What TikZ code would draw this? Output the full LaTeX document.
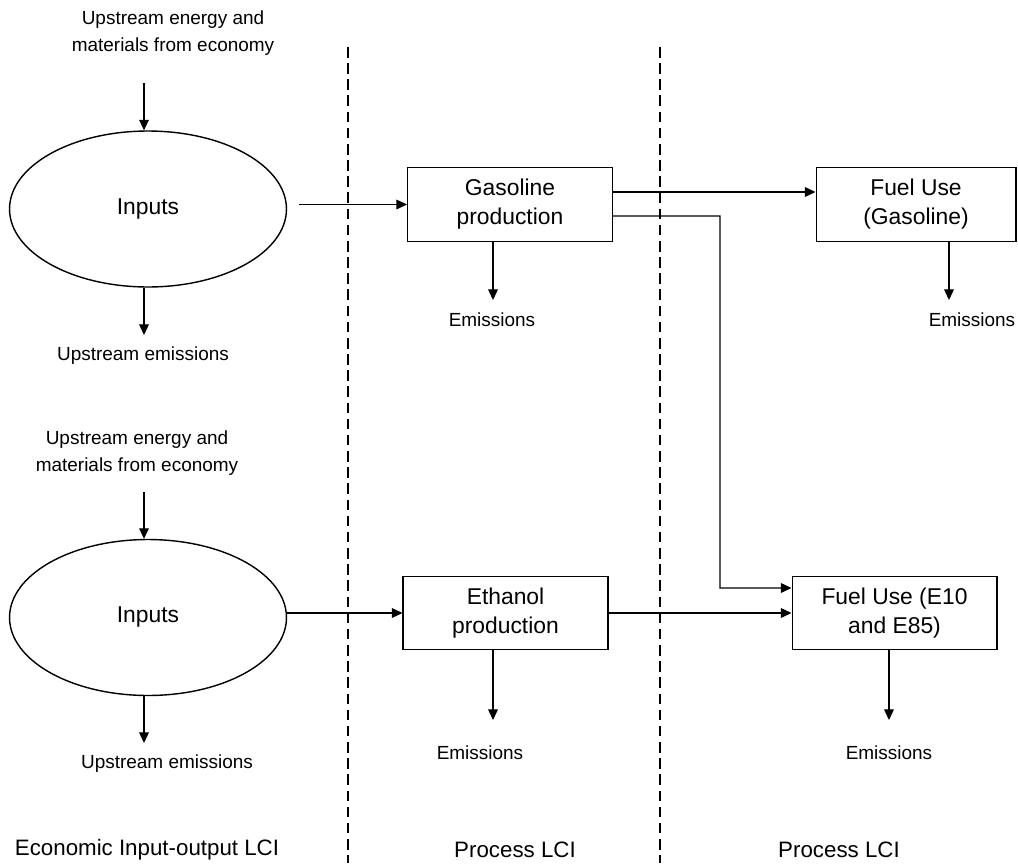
\documentclass[tikz,border=0pt]{standalone}
\usepackage{fontspec}
\setmainfont{Liberation Sans}
\usepackage{tikz}
\usetikzlibrary{arrows.meta}
\usetikzlibrary{shapes.geometric}
\tikzset{flow/.style={-{Triangle[length=6pt,width=5.5pt]},line width=0.6pt}}
\tikzset{procbox/.style={draw,line width=0.6pt,minimum width=4.1cm,minimum height=1.47cm,inner sep=0pt,align=center,font=\fontsize{13}{16.5}\selectfont}}
\tikzset{inputs/.style={draw,ellipse,line width=0.8pt,minimum width=5.54cm,minimum height=3.12cm,inner sep=0pt,font=\fontsize{13}{16}\selectfont}}
\tikzset{small/.style={align=center,font=\fontsize{10.8}{15.3}\selectfont}}
\tikzset{region/.style={font=\fontsize{12.7}{15}\selectfont}}
\tikzset{divider/.style={line width=0.6pt,dash pattern=on 6pt off 3.2pt}}

\begin{document}
\begin{tikzpicture}[x=0.02cm,y=-0.02cm]
\useasboundingbox (0,0) rectangle (1018,863);
\draw [divider] (348,47) -- (348,863);
\draw [divider] (660,47) -- (660,863);
% gasoline chain
\node [small] (up1) at (173,33) {Upstream energy and\\materials from economy};
\node [inputs] (in1) at (148,209) {Inputs};
\node [small] (ue1) at (143,356) {Upstream emissions};
\node [procbox] (gas) at (510,204.5) {Gasoline\\production};
\node [procbox,minimum width=4.0cm] (fuelg) at (916,204.5) {Fuel Use\\(Gasoline)};
\node [small] (em1) at (492,320) {Emissions};
\node [small] (em2) at (972,320) {Emissions};
% ethanol chain
\node [small] (up2) at (137,453.5) {Upstream energy and\\materials from economy};
\node [inputs] (in2) at (148,617.5) {Inputs};
\node [small] (ue2) at (167,764) {Upstream emissions};
\node [procbox] (eth) at (505.5,613) {Ethanol\\production};
\node [procbox] (fuele) at (894.5,613) {Fuel Use (E10\\and E85)};
\node [small] (em3) at (480,753) {Emissions};
\node [small] (em4) at (889,753) {Emissions};
% region names
\node [region] (eio) at (147,850) {Economic Input-output LCI};
\node [region] (pr1) at (515,850) {Process LCI};
\node [region] (pr2) at (839,850) {Process LCI};
\coordinate (s1) at (144,83);
\coordinate (s2) at (144,492);
\coordinate (d1) at (144,335);
\coordinate (d2) at (144,743);
\coordinate (o1) at (299,204.5);
\coordinate (split) at (720,216);
\coordinate (g1) at (493,300);
\coordinate (g2) at (949,300);
\coordinate (g3) at (493,720);
\coordinate (g4) at (889,720);
\draw [flow] (s1) -- (s1 |- in1.north);
\draw [flow] (d1 |- in1.south) -- (d1);
\draw [flow] (o1) -- (gas.west);
\draw [flow] ([yshift=0.25cm]gas.east) -- ([yshift=0.25cm]fuelg.west);
\draw [flow] ([yshift=-0.23cm]gas.east) -- (split) |- ([yshift=0.5cm]fuele.west);
\draw [flow] (g1 |- gas.south) -- (g1);
\draw [flow] (g2 |- fuelg.south) -- (g2);
\draw [flow] (s2) -- (s2 |- in2.north);
\draw [flow] (d2 |- in2.south) -- (d2);
\draw [flow] (in2.east |- eth.west) -- (eth.west);
\draw [flow] (eth.east) -- (fuele.west);
\draw [flow] (g3 |- eth.south) -- (g3);
\draw [flow] (g4 |- fuele.south) -- (g4);
\end{tikzpicture}
\end{document}
